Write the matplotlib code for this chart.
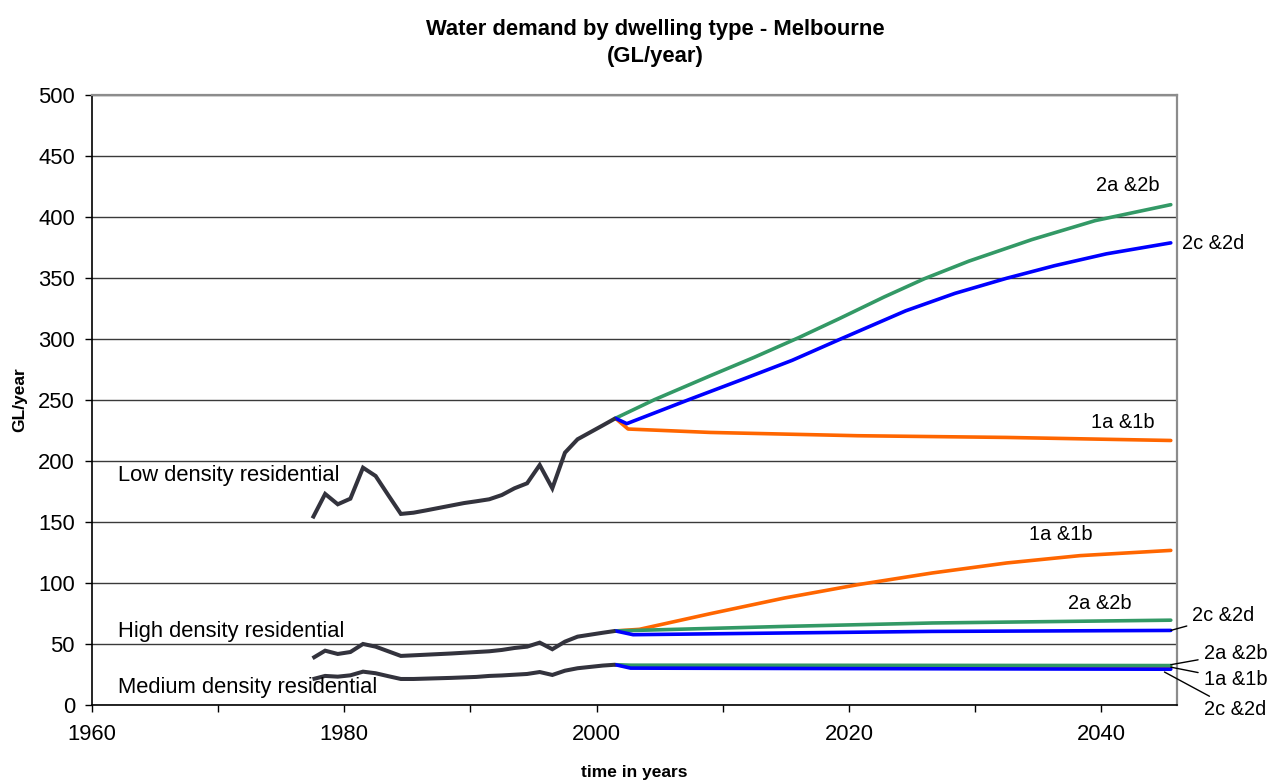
import matplotlib
matplotlib.use("Agg")
import matplotlib.pyplot as plt
from matplotlib.ticker import MultipleLocator, FuncFormatter

plt.rcParams['font.family'] = ['Liberation Sans', 'DejaVu Sans']

# Historical demand (financial-year midpoints)
hist_years = [1977.5, 1978.5, 1979.5, 1980.5, 1981.5, 1982.5, 1983.5, 1984.5,
              1985.5, 1986.5, 1987.5, 1988.5, 1989.5, 1990.5, 1991.5, 1992.5,
              1993.5, 1994.5, 1995.5, 1996.5, 1997.5, 1998.5, 1999.5, 2000.5,
              2001.5]
low_hist = [153.0, 173.0, 164.5, 169.1, 194.5, 187.7, 172.0, 156.6,
            157.6, 159.5, 161.5, 163.5, 165.5, 167.0, 168.6, 172.1,
            177.6, 181.7, 196.7, 177.6, 206.8, 217.8, 223.5, 229.2,
            235.0]
high_hist = [38.3, 44.5, 41.8, 43.4, 50.0, 47.8, 44.0, 40.2,
             40.7, 41.2, 41.7, 42.2, 42.8, 43.4, 44.0, 45.1,
             46.7, 47.8, 51.1, 45.7, 51.9, 56.0, 57.6, 59.2,
             60.7]
med_hist = [21.1, 23.8, 23.2, 24.3, 27.3, 26.0, 23.6, 21.3,
            21.3, 21.6, 21.9, 22.2, 22.6, 23.0, 23.8, 24.2,
            24.8, 25.4, 27.0, 24.6, 28.1, 30.1, 31.2, 32.3,
            33.0]

# Low density projections
low_2ab_x = [2001.5, 2004.6, 2009.0, 2012.5, 2016.0, 2019.3, 2022.8, 2026.0,
             2029.5, 2034.5, 2039.5, 2045.5]
low_2ab_y = [235.0, 250.3, 269.8, 285.0, 301.0, 317.0, 334.5, 349.5,
             363.8, 381.5, 397.0, 410.1]
low_2cd_x = [2001.5, 2002.4, 2007.5, 2011.9, 2015.5, 2019.3, 2024.5, 2028.4,
             2032.5, 2036.3, 2040.4, 2045.5]
low_2cd_y = [235.0, 230.6, 251.0, 268.2, 282.5, 299.8, 323.1, 337.4,
             349.8, 360.1, 369.8, 378.8]
low_1ab_x = [2001.5, 2002.5, 2009.0, 2020.7, 2032.5, 2045.5]
low_1ab_y = [235.0, 226.2, 223.4, 220.7, 219.3, 216.8]

# High density projections
high_1ab_x = [2001.5, 2003.4, 2009.0, 2014.9, 2020.7, 2026.6, 2032.5, 2038.3, 2045.5]
high_1ab_y = [60.7, 62.0, 74.8, 87.7, 98.6, 108.2, 116.4, 122.4, 126.7]
high_2ab_x = [2001.5, 2003.4, 2014.9, 2026.6, 2045.5]
high_2ab_y = [60.7, 61.2, 64.4, 67.2, 69.5]
high_2cd_x = [2001.5, 2002.9, 2014.9, 2026.6, 2045.5]
high_2cd_y = [60.7, 57.6, 59.0, 60.3, 61.1]

# Medium density projections
med_2ab_x = [2001.5, 2002.7, 2020.0, 2045.5]
med_2ab_y = [33.0, 32.6, 32.5, 32.3]
med_1ab_x = [2001.5, 2002.7, 2020.0, 2045.5]
med_1ab_y = [33.0, 31.4, 31.0, 30.7]
med_2cd_x = [2001.5, 2002.7, 2020.0, 2045.5]
med_2cd_y = [33.0, 30.2, 29.8, 29.3]

C_HIST = '#33333d'
C_GREEN = '#339966'
C_BLUE = '#0000ff'
C_ORANGE = '#ff6600'
LW = 2.6
FS = 15.8
FS_SC = 14.4

fig = plt.figure(figsize=(12.8, 7.8), dpi=100)
ax = fig.add_axes([0.0716, 0.0962, 0.848, 0.782])

ax.set_xlim(1960, 2046)
ax.set_ylim(0, 500)

ax.yaxis.set_major_locator(MultipleLocator(50))
ax.xaxis.set_major_locator(MultipleLocator(10))
ax.xaxis.set_major_formatter(FuncFormatter(lambda v, p: f"{int(v)}" if int(round(v)) % 20 == 0 else ""))
ax.grid(axis='y', color='#3a3a3a', lw=1.0)
ax.set_axisbelow(True)
ax.tick_params(axis='both', direction='out', length=5, width=1, labelsize=FS, colors='black')
ax.tick_params(axis='x', pad=9)
ax.tick_params(axis='y', pad=7)

for side in ('left', 'bottom'):
    ax.spines[side].set_color('black')
    ax.spines[side].set_linewidth(1.2)
for side in ('top', 'right'):
    ax.spines[side].set_color('#8c8c8c')
    ax.spines[side].set_linewidth(1.6)

# Projection lines
for xs, ys, c in [
    (low_1ab_x, low_1ab_y, C_ORANGE), (low_2ab_x, low_2ab_y, C_GREEN), (low_2cd_x, low_2cd_y, C_BLUE),
    (high_1ab_x, high_1ab_y, C_ORANGE), (high_2ab_x, high_2ab_y, C_GREEN), (high_2cd_x, high_2cd_y, C_BLUE),
    (med_1ab_x, med_1ab_y, C_ORANGE), (med_2ab_x, med_2ab_y, C_GREEN), (med_2cd_x, med_2cd_y, C_BLUE),
]:
    ax.plot(xs, ys, color=c, lw=LW, solid_joinstyle='round', solid_capstyle='round')

# Historical lines
for ys in (low_hist, high_hist, med_hist):
    ax.plot(hist_years, ys, color=C_HIST, lw=LW + 0.3, solid_joinstyle='miter', solid_capstyle='butt')

# Dwelling type labels
ax.text(1962.1, 188.5, 'Low density residential', fontsize=FS, va='center', ha='left')
ax.text(1962.1, 60.5, 'High density residential', fontsize=FS, va='center', ha='left')
ax.text(1962.1, 14.5, 'Medium density residential', fontsize=FS, va='center', ha='left')

# Scenario labels inside the plot
ax.text(2042.1, 426, '2a &2b', fontsize=FS_SC, ha='center', va='center')
ax.text(2041.7, 231.5, '1a &1b', fontsize=FS_SC, ha='center', va='center')
ax.text(2036.8, 139.5, '1a &1b', fontsize=FS_SC, ha='center', va='center')
ax.text(2039.9, 82.8, '2a &2b', fontsize=FS_SC, ha='center', va='center')

# Scenario labels to the right of the plot
ax.text(2046.4, 378.5, '2c &2d', fontsize=FS_SC, ha='left', va='center', clip_on=False)
ax.annotate('2c &2d', xy=(2045.5, 61.1), xytext=(2047.2, 73),
            fontsize=FS_SC, ha='left', va='center', annotation_clip=False,
            arrowprops=dict(arrowstyle='-', color='black', lw=1, shrinkA=2, shrinkB=0))
ax.annotate('2a &2b', xy=(2045.5, 33.0), xytext=(2048.1, 42.5),
            fontsize=FS_SC, ha='left', va='center', annotation_clip=False,
            arrowprops=dict(arrowstyle='-', color='black', lw=1, shrinkA=2, shrinkB=0))
ax.annotate('1a &1b', xy=(2045.5, 31.0), xytext=(2048.1, 20.5),
            fontsize=FS_SC, ha='left', va='center', annotation_clip=False,
            arrowprops=dict(arrowstyle='-', color='black', lw=1, shrinkA=2, shrinkB=0))
ax.annotate('2c &2d', xy=(2045.0, 27.0), xytext=(2048.1, -4),
            fontsize=FS_SC, ha='left', va='center', annotation_clip=False,
            arrowprops=dict(arrowstyle='-', color='black', lw=1, shrinkA=2, shrinkB=0))

ax.set_ylabel('GL/year', fontsize=12.5, fontweight='bold', labelpad=8)
ax.set_xlabel('time in years', fontsize=12.5, fontweight='bold', labelpad=14)

fig.text(0.512, 0.962, 'Water demand by dwelling type - Melbourne', fontsize=FS,
         fontweight='bold', ha='center', va='center')
fig.text(0.512, 0.927, '(GL/year)', fontsize=FS, fontweight='bold', ha='center', va='center')

fig.savefig('out.png', dpi=100)
